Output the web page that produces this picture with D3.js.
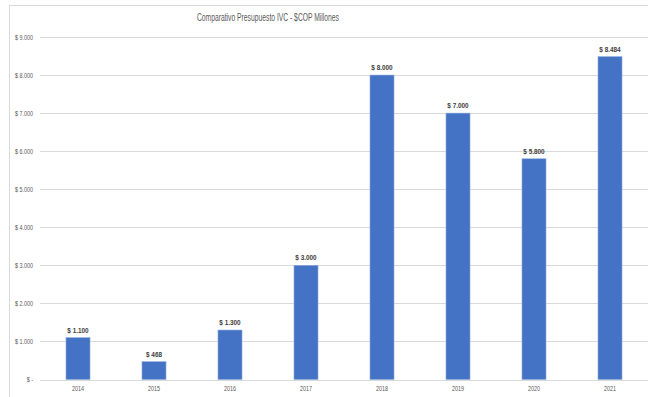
<!DOCTYPE html>
<html>
<head>
<meta charset="utf-8">
<script src="https://cdn.jsdelivr.net/npm/d3@7"></script>
<style>
  html, body { margin: 0; padding: 0; background: #fff; }
  svg { display: block; font-family: "Liberation Sans", Arial, sans-serif; }
</style>
</head>
<body>
<svg id="chart" width="648" height="397"></svg>
<script>
const years = ["2014", "2015", "2016", "2017", "2018", "2019", "2020", "2021"];
const budget = [1100, 468, 1300, 3000, 8000, 7000, 5800, 8484];
const yTicks = [0, 1000, 2000, 3000, 4000, 5000, 6000, 7000, 8000, 9000];
const title = "Comparativo  Presupuesto IVC - $COP Millones";

const svg = d3.select("#chart");
const W = 648, H = 397;
const SQUEEZE = 0.8;

const fmtNum = d3.formatLocale({ decimal: ",", thousands: ".", grouping: [3], currency: ["$", ""] }).format(",.0f");
const money = v => v === 0 ? "$ -" : "$ " + fmtNum(v);

// frame
svg.append("line").attr("x1", 9.5).attr("x2", 9.5).attr("y1", 5).attr("y2", H)
  .attr("stroke", "#d9d9d9").attr("stroke-width", 1);
svg.append("line").attr("x1", 9).attr("x2", W).attr("y1", 5.5).attr("y2", 5.5)
  .attr("stroke", "#d9d9d9").attr("stroke-width", 1);

const x = d3.scaleBand().domain(years).range([40, 648]).paddingInner(0.684).paddingOuter(0.342);
const y = d3.scaleLinear().domain([0, 9000]).range([379.5, 37]);

// gridlines
svg.append("g").selectAll("line").data(yTicks).join("line")
  .attr("x1", 40).attr("x2", W)
  .attr("y1", d => Math.round(y(d)) + 0.5).attr("y2", d => Math.round(y(d)) + 0.5)
  .attr("stroke", "#d9d9d9").attr("stroke-width", 1);

// y axis labels
const yAxis = d3.axisLeft(y).tickValues(yTicks).tickFormat(money).tickSize(0).tickPadding(0);
const gy = svg.append("g").attr("transform", "translate(33,0)").call(yAxis);
gy.select(".domain").remove();
gy.selectAll("text").attr("fill", "#595959").attr("font-size", "6.8px").attr("font-family", "inherit")
  .attr("transform", `scale(${SQUEEZE},1)`);

// x axis labels
const xAxis = d3.axisBottom(x).tickSize(0).tickPadding(0);
const gx = svg.append("g").attr("transform", "translate(0,386)").call(xAxis);
gx.select(".domain").remove();
gx.selectAll("text").attr("fill", "#595959").attr("font-size", "6.8px").attr("font-family", "inherit")
  .attr("transform", `scale(${SQUEEZE},1)`);

// bars
svg.append("g").selectAll("rect").data(years).join("rect")
  .attr("x", d => x(d))
  .attr("width", x.bandwidth())
  .attr("y", (d, i) => y(budget[i]))
  .attr("height", (d, i) => y(0) - y(budget[i]))
  .attr("fill", "#4472c4")
  .attr("stroke", "#8faadc").attr("stroke-width", 0.6);

// data labels
svg.append("g").selectAll("text").data(years).join("text")
  .attr("transform", (d, i) => `translate(${x(d) + x.bandwidth() / 2},${y(budget[i]) - 5}) scale(0.8,1)`)
  .attr("text-anchor", "middle")
  .attr("font-size", "8px").attr("font-weight", "bold").attr("fill", "#404040")
  .text((d, i) => money(budget[i]));

// title
svg.append("text").attr("x", 268).attr("y", 21).attr("text-anchor", "middle")
  .attr("font-size", "10.5px").attr("fill", "#595959")
  .attr("textLength", 142).attr("lengthAdjust", "spacingAndGlyphs")
  .text(title);
</script>
</body>
</html>
